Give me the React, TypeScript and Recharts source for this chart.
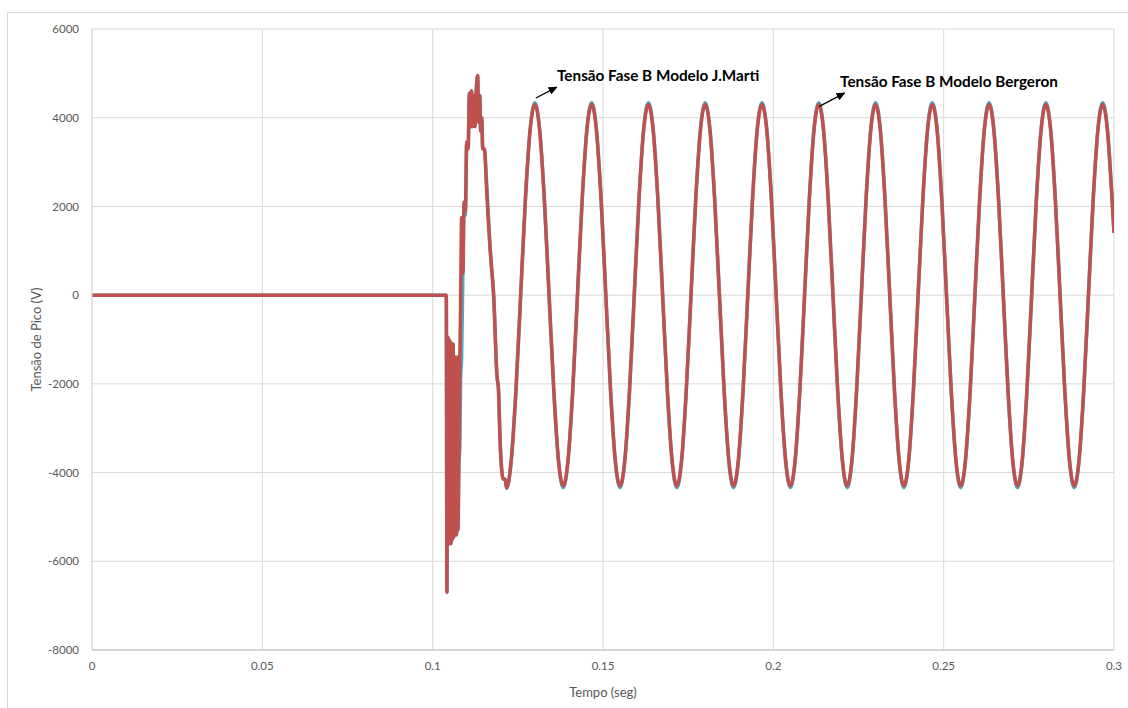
import { LineChart, Line, XAxis, YAxis, CartesianGrid, ReferenceLine, ReferenceDot, Label } from 'recharts'

// tempo (s) dos pontos das duas curvas
const tempo = [
  0, 0.104,
  0.1042, 0.1043, 0.1044, 0.1045, 0.1047, 0.1048, 0.105, 0.1052, 0.1054, 0.1056,
  0.1058, 0.106, 0.1062, 0.1064, 0.1066, 0.1068, 0.107, 0.1072, 0.1074, 0.1077,
  0.108, 0.1082, 0.1085, 0.1089, 0.1092, 0.1096, 0.11, 0.1104, 0.1108, 0.1111,
  0.1114, 0.1117, 0.112, 0.1124, 0.1128, 0.1132, 0.1135, 0.1138, 0.1141, 0.1144,
  0.1147, 0.1152, 0.1157, 0.1162, 0.117, 0.1179, 0.1189, 0.1193, 0.1198, 0.1207,
  0.1213, 0.12167, 0.12306, 0.12444, 0.12583, 0.12722, 0.12861,
  0.13, 0.13139, 0.13278, 0.13417, 0.13556, 0.13694, 0.13833, 0.13972, 0.14111, 0.1425, 0.14389, 0.14528,
  0.14667, 0.14806, 0.14944, 0.15083, 0.15222, 0.15361, 0.155, 0.15639, 0.15778, 0.15917, 0.16056, 0.16194,
  0.16333, 0.16472, 0.16611, 0.1675, 0.16889, 0.17028, 0.17167, 0.17306, 0.17444, 0.17583, 0.17722, 0.17861,
  0.18, 0.18139, 0.18278, 0.18417, 0.18556, 0.18694, 0.18833, 0.18972, 0.19111, 0.1925, 0.19389, 0.19528,
  0.19667, 0.19806, 0.19944, 0.20083, 0.20222, 0.20361, 0.205, 0.20639, 0.20778, 0.20917, 0.21056, 0.21194,
  0.21333, 0.21472, 0.21611, 0.2175, 0.21889, 0.22028, 0.22167, 0.22306, 0.22444, 0.22583, 0.22722, 0.22861,
  0.23, 0.23139, 0.23278, 0.23417, 0.23556, 0.23694, 0.23833, 0.23972, 0.24111, 0.2425, 0.24389, 0.24528,
  0.24667, 0.24806, 0.24944, 0.25083, 0.25222, 0.25361, 0.255, 0.25639, 0.25778, 0.25917, 0.26056, 0.26194,
  0.26333, 0.26472, 0.26611, 0.2675, 0.26889, 0.27028, 0.27167, 0.27306, 0.27444, 0.27583, 0.27722, 0.27861,
  0.28, 0.28139, 0.28278, 0.28417, 0.28556, 0.28694, 0.28833, 0.28972, 0.29111, 0.2925, 0.29389, 0.29528,
  0.29667, 0.29806, 0.29944, 0.3,
]

// Tensão Fase B - Modelo J.Marti (V)
const jMarti = [
  0, 0,
  -6700, -1000, -5500, -950, -5600, -1000, -5600, -1050, -5600, -1100,
  -5500, -1100, -5450, -1400, -5400, -1400, -5400, -1400, -5300, -3800,
  -3400, -1900, -1400, 700, 2000, 1800, 3450, 3300, 4550, 3800,
  4600, 3800, 4500, 3800, 4600, 4950, 3900, 4500, 3700, 4000,
  3300, 3300, 2750, 2000, 900, 0, -1850, -2100, -3300, -4150,
  -4150, -4350, -3740, -2160, 0, 2160, 3740,
  4340, 3760, 2170, 0, -2170, -3760, -4340, -3760, -2170, 0, 2170, 3760,
  4340, 3760, 2170, 0, -2170, -3760, -4340, -3760, -2170, 0, 2170, 3760,
  4340, 3760, 2170, 0, -2170, -3760, -4340, -3760, -2170, 0, 2170, 3760,
  4340, 3760, 2170, 0, -2170, -3760, -4340, -3760, -2170, 0, 2170, 3760,
  4340, 3760, 2170, 0, -2170, -3760, -4340, -3760, -2170, 0, 2170, 3760,
  4340, 3760, 2170, 0, -2170, -3760, -4340, -3760, -2170, 0, 2170, 3760,
  4340, 3760, 2170, 0, -2170, -3760, -4340, -3760, -2170, 0, 2170, 3760,
  4340, 3760, 2170, 0, -2170, -3760, -4340, -3760, -2170, 0, 2170, 3760,
  4340, 3760, 2170, 0, -2170, -3760, -4340, -3760, -2170, 0, 2170, 3760,
  4340, 3760, 2170, 0, -2170, -3760, -4340, -3760, -2170, 0, 2170, 3760,
  4340, 3760, 2170, 1420,
]

// Tensão Fase B - Modelo Bergeron (V)
const bergeron = [
  0, 0,
  -6700, -1000, -5500, -950, -5600, -1000, -5600, -1050, -5600, -1100,
  -5500, -1100, -5450, -1400, -5400, -1400, -5400, -1400, -5300, -3600,
  -1300, -200, 1750, 500, 2100, 1900, 3450, 3300, 4550, 3800,
  4600, 3800, 4500, 3800, 4600, 4950, 3900, 4500, 3700, 4000,
  3300, 3300, 2600, 1850, 900, 0, -1850, -2100, -3300, -4150,
  -4150, -4350, -3720, -2150, 0, 2150, 3720,
  4300, 3720, 2150, 0, -2150, -3720, -4300, -3720, -2150, 0, 2150, 3720,
  4300, 3720, 2150, 0, -2150, -3720, -4300, -3720, -2150, 0, 2150, 3720,
  4300, 3720, 2150, 0, -2150, -3720, -4300, -3720, -2150, 0, 2150, 3720,
  4300, 3720, 2150, 0, -2150, -3720, -4300, -3720, -2150, 0, 2150, 3720,
  4300, 3720, 2150, 0, -2150, -3720, -4300, -3720, -2150, 0, 2150, 3720,
  4300, 3720, 2150, 0, -2150, -3720, -4300, -3720, -2150, 0, 2150, 3720,
  4300, 3720, 2150, 0, -2150, -3720, -4300, -3720, -2150, 0, 2150, 3720,
  4300, 3720, 2150, 0, -2150, -3720, -4300, -3720, -2150, 0, 2150, 3720,
  4300, 3720, 2150, 0, -2150, -3720, -4300, -3720, -2150, 0, 2150, 3720,
  4300, 3720, 2150, 0, -2150, -3720, -4300, -3720, -2150, 0, 2150, 3720,
  4300, 3720, 2150, 1400,
]

const xTicks = [0, 0.05, 0.1, 0.15, 0.2, 0.25, 0.3]
const yTicks = [-8000, -6000, -4000, -2000, 0, 2000, 4000, 6000]

// anotações: [tempo, tensão]
const setaJMarti = [[0.1303, 4445], [0.1364, 4690]]
const textoJMarti = { x: 0.1365, y: 4950, texto: 'Tensão Fase B Modelo J.Marti' }
const setaBergeron = [[0.2135, 4254], [0.2209, 4556]]
const textoBergeron = { x: 0.2196, y: 4810, texto: 'Tensão Fase B Modelo Bergeron' }

const data = tempo.map((t, i) => ({ t, jm: jMarti[i], bg: bergeron[i] }))

const font = 'Lato, "Open Sans", sans-serif'
const tickStyle = { fill: '#595959', fontSize: 11.5, fontFamily: font }
const titleStyle = { fill: '#595959', fontSize: 13, fontFamily: font }
const noteStyle = { fill: '#000', fontSize: 15.3, fontWeight: 700, fontFamily: font }

export default function App() {
  return (
    <div style={{ position: 'absolute', left: 0, top: 0, width: 1128, height: 708, overflow: 'hidden', background: '#fff' }}>
      <div style={{ position: 'absolute', left: 7, top: 12, width: 1200, height: 800, borderLeft: '1px solid #D9D9D9', borderTop: '1px solid #D9D9D9' }} />
      <svg width={0} height={0} style={{ position: 'absolute' }}>
        <defs>
          <marker id="seta" markerWidth={9} markerHeight={8} refX={8} refY={4} orient="auto" markerUnits="userSpaceOnUse">
            <path d="M0,0 L9,4 L0,8 Z" fill="#000" />
          </marker>
        </defs>
      </svg>
      <div style={{ position: 'absolute', left: 0, top: 0 }}>
        <LineChart width={1128} height={708} data={data} margin={{ top: 29, right: 14, bottom: 0, left: 0 }}>
          <CartesianGrid stroke="#D9D9D9" strokeWidth={1} />
          <XAxis
            dataKey="t"
            type="number"
            domain={[0, 0.3]}
            ticks={xTicks}
            tick={tickStyle}
            tickLine={false}
            tickSize={6}
            tickMargin={6}
            axisLine={{ stroke: '#BFBFBF' }}
            height={58}
            allowDataOverflow
          >
            <Label value="Tempo (seg)" position="insideBottom" offset={11} style={titleStyle} />
          </XAxis>
          <YAxis
            type="number"
            domain={[-8000, 6000]}
            ticks={yTicks}
            tick={tickStyle}
            tickLine={false}
            tickSize={6}
            tickMargin={7}
            axisLine={{ stroke: '#D9D9D9' }}
            width={92}
            allowDataOverflow
          >
            <Label value="Tensão de Pico (V)" angle={-90} position="insideLeft" offset={36} style={{ ...titleStyle, textAnchor: 'middle' }} />
          </YAxis>
          <Line type="monotone" dataKey="jm" name="Modelo J.Marti" stroke="#4BACC6" strokeWidth={3.5} dot={false} isAnimationActive={false} />
          <Line type="monotone" dataKey="bg" name="Modelo Bergeron" stroke="#C0504D" strokeWidth={3.5} dot={false} isAnimationActive={false} />
          <ReferenceLine
            segment={setaJMarti.map(([x, y]) => ({ x, y }))}
            stroke="#000"
            strokeWidth={1.3}
            markerEnd="url(#seta)"
            ifOverflow="visible"
          />
          <ReferenceLine
            segment={setaBergeron.map(([x, y]) => ({ x, y }))}
            stroke="#000"
            strokeWidth={1.3}
            markerEnd="url(#seta)"
            ifOverflow="visible"
          />
          <ReferenceDot x={textoJMarti.x} y={textoJMarti.y} r={0} fill="none" stroke="none" ifOverflow="visible">
            <Label value={textoJMarti.texto} position="right" offset={0} style={noteStyle} />
          </ReferenceDot>
          <ReferenceDot x={textoBergeron.x} y={textoBergeron.y} r={0} fill="none" stroke="none" ifOverflow="visible">
            <Label value={textoBergeron.texto} position="right" offset={0} style={noteStyle} />
          </ReferenceDot>
        </LineChart>
      </div>
    </div>
  )
}
